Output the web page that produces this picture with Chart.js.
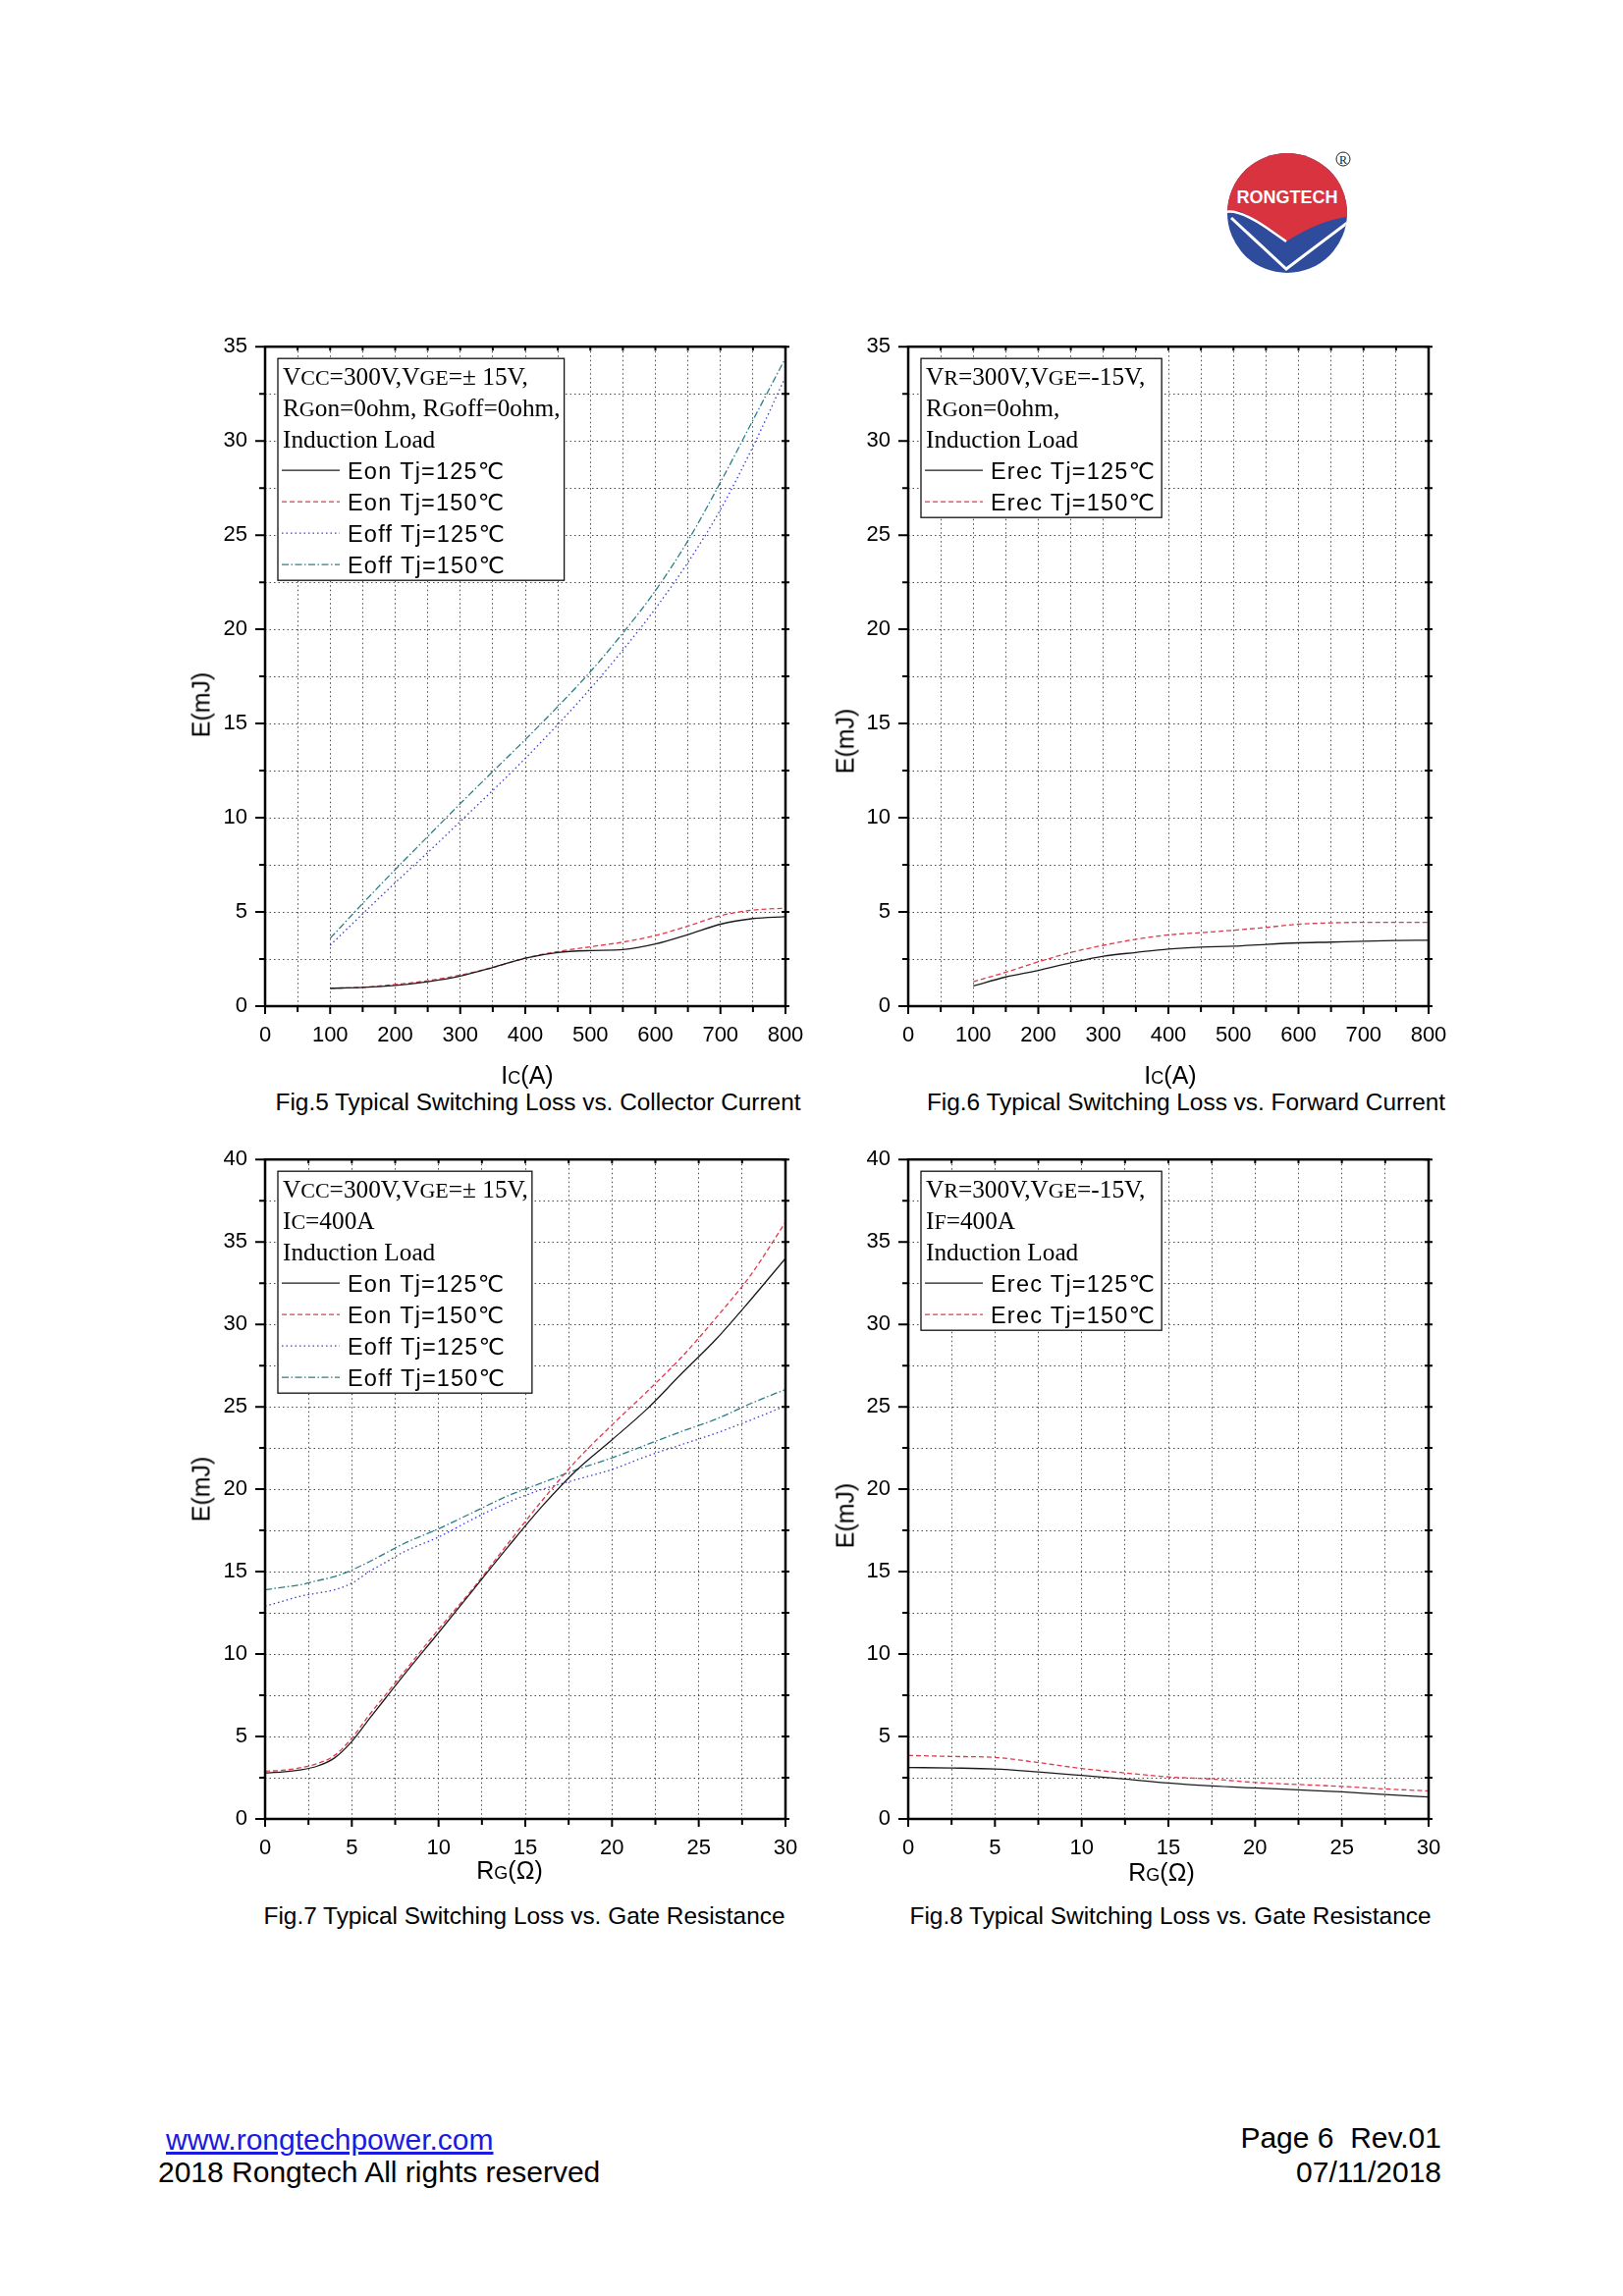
<!DOCTYPE html>
<html><head><meta charset="utf-8">
<script src="https://cdn.jsdelivr.net/npm/chart.js@4.4.1/dist/chart.umd.min.js"></script>
<style>
html,body{margin:0;padding:0;background:#fff;}
body{width:1653px;height:2339px;position:relative;overflow:hidden;font-family:"Liberation Sans",Arial,sans-serif;color:#000;}
canvas.cv{position:absolute;}
.t{position:absolute;white-space:nowrap;line-height:1;}
.c{transform:translate(-50%,-50%);}
.l{transform:translateY(-50%);}
.r{transform:translate(-100%,-50%);}
.ax{font-size:25px;}
.ax small{font-size:18px;}
.cap{font-size:24.4px;}
.rot{transform:translate(-50%,-50%) rotate(-90deg);font-size:25px;}
.foot{font-size:30px;}
a{color:#1a1ae0;text-decoration:underline;}
</style></head>
<body>

<svg style="position:absolute;left:1240px;top:145px" width="150" height="140" viewBox="1240 145 150 140">
  <defs><clipPath id="cc"><circle cx="1311" cy="217" r="61"/></clipPath></defs>
  <g clip-path="url(#cc)">
    <rect x="1240" y="145" width="150" height="140" fill="#2f4b9b"/>
    <path d="M1240 145 H1390 V222 L1372 221 Q1345 224 1310 246 Q1290 228 1262 215 L1240 218 Z" fill="#d8333f"/>
    <path d="M1248 216 Q1262 213 1290 232 L1310 246" fill="none" stroke="#fff" stroke-width="2.5"/>
    <path d="M1254 222 L1310 274 L1376 224" fill="none" stroke="#fff" stroke-width="3"/>
  </g>
  <text x="1311" y="207" text-anchor="middle" font-family="Liberation Sans" font-weight="bold" font-size="18" fill="#fff">RONGTECH</text>
  <circle cx="1368" cy="162" r="7" fill="none" stroke="#222" stroke-width="1"/>
  <text x="1368" y="167" text-anchor="middle" font-family="Liberation Serif" font-size="12" fill="#222">R</text>
</svg>

<canvas id="c1" class="cv" width="640" height="753" style="left:200px;top:332px"></canvas>
<canvas id="c2" class="cv" width="640" height="753" style="left:855px;top:332px"></canvas>
<canvas id="c3" class="cv" width="640" height="753" style="left:200px;top:1160px"></canvas>
<canvas id="c4" class="cv" width="640" height="753" style="left:855px;top:1160px"></canvas>

<div class="t rot" style="left:205px;top:718px">E(mJ)</div>
<div class="t rot" style="left:861px;top:755px">E(mJ)</div>
<div class="t rot" style="left:205px;top:1517px">E(mJ)</div>
<div class="t rot" style="left:861px;top:1544px">E(mJ)</div>

<div class="t c ax" style="left:537px;top:1095px">I<small>C</small>(A)</div>
<div class="t c ax" style="left:1192px;top:1095px">I<small>C</small>(A)</div>
<div class="t c ax" style="left:519px;top:1905px">R<small>G</small>(Ω)</div>
<div class="t c ax" style="left:1183px;top:1907px">R<small>G</small>(Ω)</div>

<div class="t c cap" style="left:548px;top:1123px">Fig.5 Typical Switching Loss vs. Collector Current</div>
<div class="t c cap" style="left:1208px;top:1123px">Fig.6 Typical Switching Loss vs. Forward Current</div>
<div class="t c cap" style="left:534px;top:1952px">Fig.7 Typical Switching Loss vs. Gate Resistance</div>
<div class="t c cap" style="left:1192px;top:1952px">Fig.8 Typical Switching Loss vs. Gate Resistance</div>

<div class="t l foot" style="left:169px;top:2180px"><a href="#">www.rongtechpower.com</a></div>
<div class="t l foot" style="left:161px;top:2213px">2018 Rongtech All rights reserved</div>
<div class="t r foot" style="left:1468px;top:2178px">Page 6&nbsp; Rev.01</div>
<div class="t r foot" style="left:1468px;top:2213px">07/11/2018</div>

<script>
// ---------- DATA ----------
const icA = [100,150,200,250,300,350,400,450,500,550,600,650,700,750,800];
const fig5EonT125  = [0.95,1.0,1.1,1.3,1.6,2.05,2.55,2.85,2.95,3.0,3.3,3.8,4.35,4.65,4.75];
const fig5EonT150  = [0.95,1.0,1.15,1.35,1.65,2.05,2.55,2.9,3.15,3.4,3.75,4.25,4.8,5.1,5.2];
const fig5EoffT125 = [3.23,4.9,6.55,8.15,9.8,11.45,13.15,14.95,16.85,18.9,21.1,23.55,26.35,29.7,33.4];
const fig5EoffT150 = [3.6,5.45,7.25,9.0,10.75,12.45,14.15,15.9,17.75,19.8,22.05,24.7,27.8,31.1,34.4];

const ifA = [100,150,200,250,300,350,400,450,500,550,600,650,700,750,800];
const fig6ErecT125 = [1.07,1.55,1.9,2.3,2.65,2.85,3.03,3.13,3.18,3.28,3.36,3.4,3.45,3.48,3.5];
const fig6ErecT150 = [1.3,1.8,2.35,2.85,3.23,3.55,3.78,3.9,4.03,4.18,4.35,4.42,4.45,4.45,4.45];

const rgOhm7 = [0,1,2,3,4,5,6,7,8,10,12,14,16,18,20,22,24,26,28,30];
const fig7EonT125  = [2.79,2.85,2.97,3.2,3.7,4.7,6.06,7.4,8.73,11.3,13.9,16.5,19.0,21.2,23.0,24.85,27.0,29.1,31.5,34.0];
const fig7EonT150  = [2.9,2.95,3.1,3.35,3.85,4.9,6.3,7.6,8.9,11.5,14.0,16.7,19.35,21.8,23.9,25.9,28.0,30.4,33.0,36.2];
const fig7EoffT125 = [12.9,13.2,13.5,13.7,13.9,14.3,15.0,15.6,16.2,17.1,18.2,19.2,20.0,20.6,21.2,22.0,22.7,23.4,24.2,25.05];
const fig7EoffT150 = [13.9,14.05,14.2,14.45,14.7,15.1,15.6,16.15,16.7,17.6,18.6,19.6,20.4,21.2,21.9,22.7,23.5,24.25,25.2,26.05];

const rgOhm8 = [0,2.5,5,7.5,10,12.5,15,17.5,20,22.5,25,27.5,30];
const fig8ErecT125 = [3.12,3.09,3.03,2.85,2.64,2.42,2.18,2.0,1.88,1.76,1.64,1.48,1.33];
const fig8ErecT150 = [3.85,3.79,3.73,3.42,3.06,2.79,2.55,2.42,2.21,2.09,1.97,1.82,1.7];

const labelEonT125 = 'Eon Tj=125℃', labelEonT150 = 'Eon Tj=150℃';
const labelEoffT125 = 'Eoff Tj=125℃', labelEoffT150 = 'Eoff Tj=150℃';
const labelErecT125 = 'Erec Tj=125℃', labelErecT150 = 'Erec Tj=150℃';

const head5 = [[['V',0],['CC',1],['=300V,V',0],['GE',1],['=± 15V,',0]],[['R',0],['G',1],['on=0ohm, R',0],['G',1],['off=0ohm,',0]],[['Induction Load',0]]];
const head6 = [[['V',0],['R',1],['=300V,V',0],['GE',1],['=-15V,',0]],[['R',0],['G',1],['on=0ohm,',0]],[['Induction Load',0]]];
const head7 = [[['V',0],['CC',1],['=300V,V',0],['GE',1],['=± 15V,',0]],[['I',0],['C',1],['=400A',0]],[['Induction Load',0]]];
const head8 = [[['V',0],['R',1],['=300V,V',0],['GE',1],['=-15V,',0]],[['I',0],['F',1],['=400A',0]],[['Induction Load',0]]];

// ---------- STYLES ----------
const ST = {
  eon125:{color:'#1a1a1a',dash:[]},
  eon150:{color:'#e23a4c',dash:[5,3]},
  eoff125:{color:'#3c3ccc',dash:[1.5,3]},
  eoff150:{color:'#2a7f86',dash:[7,2.5,1.5,2.5]}
};

function ds(label, xs, ys, st){
  return {label, data: xs.map((v,i)=>({x:v,y:ys[i]})), borderColor:st.color, borderDash:st.dash,
    borderWidth:1.3, pointRadius:0, fill:false, cubicInterpolationMode:'monotone'};
}

const framePlugin = {
  id:'frame',
  afterDraw(chart, args, o){
    const {ctx, chartArea:a, scales:{x,y}} = chart;
    ctx.save();
    ctx.setLineDash([]);
    ctx.strokeStyle='#000'; ctx.lineWidth=2;
    ctx.beginPath();
    x.ticks.forEach(t=>{
      const px = x.getPixelForValue(t.value);
      const major = Math.abs(t.value % o.xMajor) < 1e-9;
      ctx.moveTo(px,a.bottom); ctx.lineTo(px,a.bottom+(major?8:6));
      ctx.moveTo(px,a.top); ctx.lineTo(px,a.top+4);
    });
    y.ticks.forEach(t=>{
      const py = y.getPixelForValue(t.value);
      const major = Math.abs(t.value % o.yMajor) < 1e-9;
      ctx.moveTo(a.left,py); ctx.lineTo(a.left-(major?10:6),py);
      ctx.moveTo(a.right-4,py); ctx.lineTo(a.right+4,py);
    });
    ctx.stroke();
    ctx.lineWidth=2.5;
    ctx.strokeRect(a.left,a.top,a.right-a.left,a.bottom-a.top);

    // legend box
    const BIG='25.3px "Liberation Serif"', SMALL='22px "Liberation Serif"';
    const LF='23.5px "Liberation Sans", "DejaVu Sans"';
    const LS='1.2px';
    const bx=a.left+13, by=a.top+12;
    const sets = chart.data.datasets;
    const n = o.header.length + sets.length;
    let maxW=0;
    o.header.forEach(line=>{
      let w=0; line.forEach(([t,s])=>{ctx.font=s?SMALL:BIG; w+=ctx.measureText(t).width;});
      maxW=Math.max(maxW,w);
    });
    ctx.font=LF; ctx.letterSpacing=LS;
    sets.forEach(d=>{ maxW=Math.max(maxW, 68+ctx.measureText(d.label).width); });
    ctx.letterSpacing='0px';
    const bw = maxW+9, bh = 34+32*(n-1);
    ctx.fillStyle='#fff'; ctx.fillRect(bx,by,bw,bh);
    ctx.lineWidth=1.3; ctx.strokeStyle='#111'; ctx.strokeRect(bx,by,bw,bh);
    ctx.fillStyle='#000'; ctx.textBaseline='alphabetic'; ctx.textAlign='left';
    let line=0;
    o.header.forEach(runs=>{
      let cx=bx+5; const yy=by+27+32*line;
      runs.forEach(([t,s])=>{ctx.font=s?SMALL:BIG; ctx.fillText(t,cx,yy); cx+=ctx.measureText(t).width;});
      line++;
    });
    sets.forEach(d=>{
      const yy=by+27+32*line;
      ctx.beginPath(); ctx.setLineDash(d.borderDash||[]); ctx.strokeStyle=d.borderColor; ctx.lineWidth=1.3;
      ctx.moveTo(bx+4,yy-9); ctx.lineTo(bx+63,yy-9); ctx.stroke(); ctx.setLineDash([]);
      ctx.font=LF; ctx.letterSpacing=LS; ctx.fillStyle='#000';
      ctx.fillText(d.label,bx+71,yy); ctx.letterSpacing='0px';
      line++;
    });
    ctx.restore();
  }
};

function make(id, datasets, xMax, xStep, xMajor, yMax, header){
  new Chart(document.getElementById(id), {
    type:'line',
    data:{datasets},
    plugins:[framePlugin],
    options:{
      responsive:false, animation:false, events:[],
      layout:{padding:{left:0,top:20,right:40,bottom:0}},
      plugins:{legend:{display:false}, tooltip:{enabled:false}, frame:{xMajor, yMajor:5, header}},
      scales:{
        x:{type:'linear', min:0, max:xMax,
          afterFit(s){ s.height=60; },
          ticks:{stepSize:xStep, autoSkip:false, maxRotation:0, color:'#000', padding:9,
            font:{family:'"Liberation Sans"', size:22},
            callback:(v)=> (Math.abs(v % xMajor)<1e-9 ? String(v) : '')},
          grid:{color:'#4a4a4a', lineWidth:1, tickLength:8, tickColor:'rgba(0,0,0,0)'},
          border:{display:false, dash:[1.5,3]}
        },
        y:{type:'linear', min:0, max:yMax,
          afterFit(s){ s.width=70; },
          ticks:{stepSize:2.5, autoSkip:false, color:'#000', padding:8,
            font:{family:'"Liberation Sans"', size:22},
            callback:(v)=> (Math.abs(v % 5)<1e-9 ? String(v) : '')},
          grid:{color:'#4a4a4a', lineWidth:1, tickLength:10, tickColor:'rgba(0,0,0,0)'},
          border:{display:false, dash:[1.5,3]}
        }
      }
    }
  });
}

make('c1', [
  ds(labelEonT125, icA, fig5EonT125, ST.eon125),
  ds(labelEonT150, icA, fig5EonT150, ST.eon150),
  ds(labelEoffT125, icA, fig5EoffT125, ST.eoff125),
  ds(labelEoffT150, icA, fig5EoffT150, ST.eoff150)
], 800, 50, 100, 35, head5);

make('c2', [
  ds(labelErecT125, ifA, fig6ErecT125, ST.eon125),
  ds(labelErecT150, ifA, fig6ErecT150, ST.eon150)
], 800, 50, 100, 35, head6);

make('c3', [
  ds(labelEonT125, rgOhm7, fig7EonT125, ST.eon125),
  ds(labelEonT150, rgOhm7, fig7EonT150, ST.eon150),
  ds(labelEoffT125, rgOhm7, fig7EoffT125, ST.eoff125),
  ds(labelEoffT150, rgOhm7, fig7EoffT150, ST.eoff150)
], 30, 2.5, 5, 40, head7);

make('c4', [
  ds(labelErecT125, rgOhm8, fig8ErecT125, ST.eon125),
  ds(labelErecT150, rgOhm8, fig8ErecT150, ST.eon150)
], 30, 2.5, 5, 40, head8);
</script>
</body></html>
